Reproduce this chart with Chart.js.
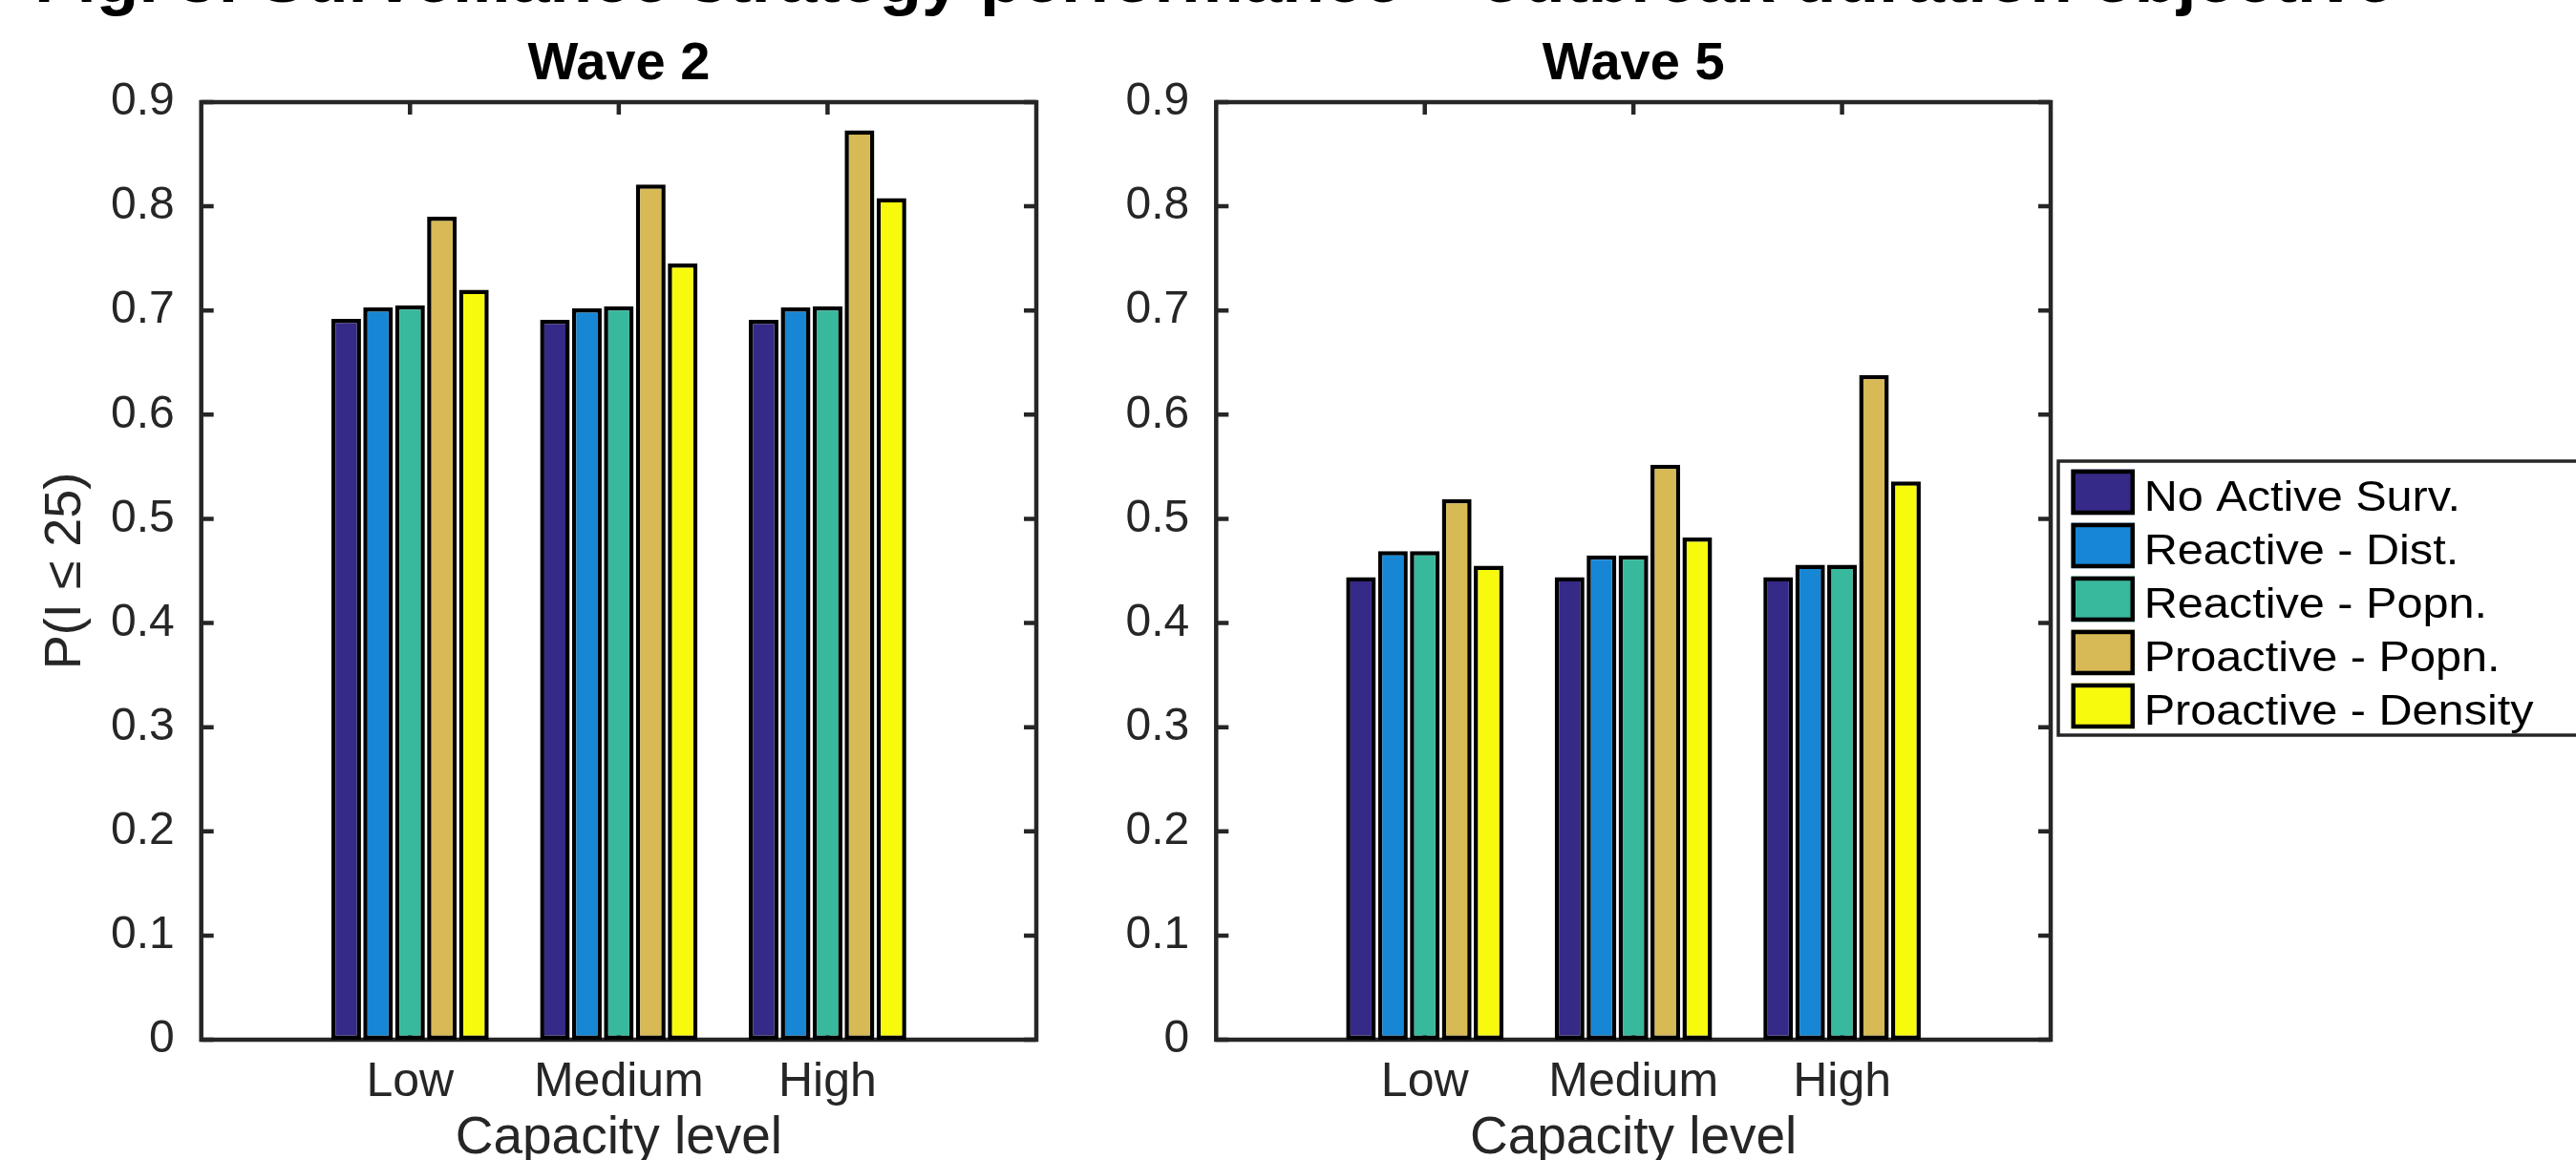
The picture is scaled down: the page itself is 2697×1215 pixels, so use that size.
<!DOCTYPE html>
<html><head><meta charset="utf-8">
<script src="https://cdn.jsdelivr.net/npm/chart.js@4.4.1/dist/chart.umd.min.js"></script>
<style>
html,body{margin:0;padding:0;background:#fff;width:2697px;height:1215px;overflow:hidden;}
canvas{position:absolute;top:0;}
#c1{left:0;}
#c2{left:1140px;}
#caption{position:absolute;left:36px;top:-60px;font:bold 73px "Liberation Sans",Arial,sans-serif;line-height:73px;color:#000;white-space:nowrap;}
</style></head><body>
<div id="caption">Fig. 3: Surveillance strategy performance – outbreak duration objective</div>
<canvas id="c1" width="1140" height="1215"></canvas>
<canvas id="c2" width="1557" height="1215"></canvas>
<script>
// ---- data ----
const categories = ['Low', 'Medium', 'High'];
const seriesNames = ['No Active Surv.', 'Reactive - Dist.', 'Reactive - Popn.', 'Proactive - Popn.', 'Proactive - Density'];
const seriesColors = ['#352a87', '#1786d4', '#38b89d', '#d7b955', '#f8fa0d'];
const panelTitles = ['Wave 2', 'Wave 5'];
const xTickValues = [1, 2, 3];
const yTickValues = [0, 0.1, 0.2, 0.3, 0.4, 0.5, 0.6, 0.7, 0.8, 0.9];

const wave2NoActive   = [0.692, 0.691, 0.691];
const wave2ReactDist  = [0.703, 0.702, 0.703];
const wave2ReactPopn  = [0.705, 0.704, 0.704];
const wave2ProPopn    = [0.790, 0.821, 0.873];
const wave2ProDensity = [0.720, 0.745, 0.808];

const wave5NoActive   = [0.444, 0.444, 0.444];
const wave5ReactDist  = [0.469, 0.465, 0.456];
const wave5ReactPopn  = [0.469, 0.465, 0.456];
const wave5ProPopn    = [0.519, 0.552, 0.638];
const wave5ProDensity = [0.455, 0.482, 0.536];

const FONT = '"Liberation Sans", Arial, Helvetica, sans-serif';
const AXIS = '#262626';

// MATLAB-like box with inward ticks (drawn beneath the bars)
const boxAxes = {
  id: 'boxAxes',
  beforeDatasetsDraw(chart) {
    const {ctx, chartArea: a, scales: {x, y}} = chart;
    ctx.save();
    ctx.strokeStyle = AXIS;
    ctx.lineWidth = 4.5;
    ctx.lineCap = 'butt';
    ctx.beginPath();
    const tl = 13;
    yTickValues.forEach(v => {
      const py = y.getPixelForValue(v);
      ctx.moveTo(a.left, py); ctx.lineTo(a.left + tl, py);
      ctx.moveTo(a.right, py); ctx.lineTo(a.right - tl, py);
    });
    xTickValues.forEach(v => {
      const px = x.getPixelForValue(v);
      ctx.moveTo(px, a.top); ctx.lineTo(px, a.top + tl);
      ctx.moveTo(px, a.bottom); ctx.lineTo(px, a.bottom - tl);
    });
    ctx.stroke();
    ctx.strokeRect(a.left, a.top, a.right - a.left, a.bottom - a.top);
    ctx.restore();
  }
};

// boxed legend at the right of the second panel
const boxLegend = {
  id: 'boxLegend',
  afterDraw(chart, args, opts) {
    if (!opts.show) return;
    const ctx = chart.ctx;
    const ox = 1140;
    const bx = 2155 - ox, by = 483, bh = 287;
    ctx.save();
    ctx.fillStyle = '#fff';
    ctx.fillRect(bx, by, chart.width - bx + 20, bh);
    ctx.strokeStyle = AXIS; ctx.lineWidth = 3.5;
    ctx.strokeRect(bx, by, chart.width - bx + 20, bh);
    chart.data.datasets.forEach((ds, i) => {
      const sy = 491.7 + i * 56;
      const sx = 2168.5 - ox, sw = 66.5, sh = 47.5;
      ctx.fillStyle = ds.backgroundColor;
      ctx.fillRect(sx, sy, sw, sh);
      ctx.strokeStyle = '#000'; ctx.lineWidth = 4.5;
      ctx.strokeRect(sx + 2.25, sy + 2.25, sw - 4.5, sh - 4.5);
      ctx.save();
      ctx.translate(2244.7 - ox, sy + 43.5);
      ctx.scale(1.08, 1);
      ctx.fillStyle = '#000';
      ctx.font = '45px ' + FONT;
      ctx.textBaseline = 'alphabetic';
      ctx.fillText(ds.label, 0, 0);
      ctx.restore();
    });
    ctx.restore();
  }
};

function makePanel(id, title, seriesData, cfg) {
  return new Chart(document.getElementById(id), {
    type: 'bar',
    data: {
      datasets: seriesNames.map((name, i) => ({
        label: name,
        data: seriesData[i].map((v, j) => ({x: xTickValues[j], y: v})),
        backgroundColor: seriesColors[i],
        borderColor: '#000',
        borderWidth: 4.5,
        borderSkipped: false
      }))
    },
    options: {
      responsive: false,
      animation: false,
      devicePixelRatio: 1,
      categoryPercentage: 0.765,
      barPercentage: 0.93,
      layout: {padding: {top: 40, left: 0, right: cfg.padRight, bottom: 0}},
      plugins: {
        legend: {display: false},
        tooltip: {enabled: false},
        boxLegend: {show: cfg.legend},
        title: {
          display: true, text: title, fullSize: false, color: '#000',
          font: {family: FONT, size: 56, weight: 'bold', lineHeight: 1},
          padding: {top: 0, bottom: 11}
        }
      },
      scales: {
        x: {
          type: 'linear', min: 0, max: 4, offset: false,
          grid: {display: false, drawTicks: false, offset: false},
          border: {display: false},
          afterBuildTicks: s => { s.ticks = xTickValues.map(v => ({value: v})); },
          ticks: {
            callback: v => categories[Math.round(v) - 1] ?? '',
            font: {family: FONT, size: 50}, color: AXIS, padding: 15.7,
            maxRotation: 0, autoSkip: false
          },
          title: {display: true, text: 'Capacity level', color: AXIS,
                  font: {family: FONT, size: 55, lineHeight: 0.8}, padding: 0},
          afterFit: s => { s.height = 126; }
        },
        y: {
          min: 0, max: 0.9,
          grid: {display: false, drawTicks: false},
          border: {display: false},
          afterBuildTicks: s => { s.ticks = yTickValues.map(v => ({value: v})); },
          ticks: {
            callback: v => Math.abs(v) < 1e-9 ? '0' : Number(v).toFixed(1),
            font: {family: FONT, size: 48}, color: AXIS, padding: 28
          },
          title: {display: cfg.yTitle, text: 'P(I \u2264 25)', color: AXIS,
                  font: {family: FONT, size: 54}, padding: {top: 37, bottom: 0}},
          afterFit: s => { s.width = cfg.yWidth; }
        }
      }
    },
    plugins: [boxAxes, boxLegend]
  });
}

makePanel('c1', panelTitles[0],
  [wave2NoActive, wave2ReactDist, wave2ReactPopn, wave2ProPopn, wave2ProDensity],
  {padRight: 55, yWidth: 210.7, yTitle: true, legend: false});
makePanel('c2', panelTitles[1],
  [wave5NoActive, wave5ReactDist, wave5ReactPopn, wave5ProPopn, wave5ProDensity],
  {padRight: 550, yWidth: 133.3, yTitle: false, legend: true});
</script>
</body></html>
